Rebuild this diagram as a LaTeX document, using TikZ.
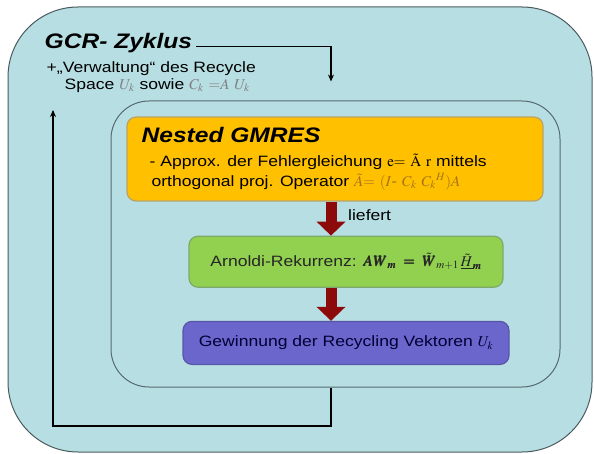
\documentclass[tikz,border=0pt]{standalone}
\usepackage{mathptmx}
\usepackage{bm}
\usepackage[no-math]{fontspec}
\setmainfont{Liberation Sans}[FakeStretch=1.17]
\usetikzlibrary{arrows.meta,positioning}
\definecolor{gcrblue}{HTML}{B7DEE2}
\definecolor{framegray}{HTML}{4A5A5E}
\definecolor{nestgray}{HTML}{566B70}
\definecolor{gmresorange}{HTML}{FFC000}
\definecolor{gmresedge}{HTML}{B9A36A}
\definecolor{arngreen}{HTML}{92D050}
\definecolor{arnedge}{HTML}{7DAA6A}
\definecolor{recblue}{HTML}{6B66CC}
\definecolor{recedge}{HTML}{5956A8}
\definecolor{flowred}{HTML}{8C0A0A}
\definecolor{mathgray}{HTML}{7F7F7F}
\definecolor{mathbrown}{HTML}{A8741A}
\newcommand{\bodysize}{\fontsize{15}{18}\selectfont}
\newcommand{\headsize}{\fontsize{21}{24}\selectfont}
\tikzstyle{gcrframe}=[draw=framegray,fill=gcrblue,line width=1pt,rounded corners=70pt,minimum width=584pt,minimum height=445pt,inner sep=0pt]
\tikzstyle{nestframe}=[draw=nestgray,line width=1pt,rounded corners=38pt,minimum width=449pt,minimum height=286pt,inner sep=0pt]
\tikzstyle{colorbox}=[line width=1.2pt,rounded corners=9pt,inner sep=0pt,font=\bodysize]
\tikzstyle{gmresbox}=[colorbox,draw=gmresedge,fill=gmresorange,minimum width=416pt,minimum height=84pt]
\tikzstyle{arnbox}=[colorbox,draw=arnedge,fill=arngreen,minimum width=314pt,minimum height=51pt,text=black!85]
\tikzstyle{recbox}=[colorbox,draw=recedge,fill=recblue,minimum width=326pt,minimum height=43pt,text=black!80!blue]
\tikzstyle{headtext}=[inner sep=0pt,anchor=base west,font=\headsize\bfseries\itshape]
\tikzstyle{bodytext}=[inner sep=0pt,anchor=base west,font=\bodysize]
\tikzstyle{loopline}=[draw=black,line width=1.6pt,-{Stealth[length=7pt,width=6pt]}]
\tikzstyle{flowarrow}=[draw=flowred,line width=11pt,-{Triangle[width=29pt,length=14pt,line width=0pt]}]

\begin{document}
\begin{tikzpicture}[x=1pt,y=-1pt,node distance=34pt]
  \useasboundingbox (0,0) rectangle (594,454);
  \node[gcrframe]  (gcr) at (300,229.5) {};
  \node[nestframe] (nested) at (335.5,244) {};
  \node[gmresbox]  (gmres) at (335,159) {};
  \node[arnbox]    (arnoldi) [below=of gmres,xshift=11pt] {Arnoldi-Rekurrenz: $\bm{AW_m}\;\bm{=}\;\bm{\tilde{W}_{m+1}}\,\bm{\underline{\tilde{H}}_m}$};
  \node[recbox]    (recycle) [below=33pt of arnoldi] {Gewinnung der Recycling Vektoren $U_k$};
  \coordinate (axis) at (331,0);

  % GCR texts
  \node[headtext] (gcrtitle) at ([shift={(37,42)}]gcr.north west) {GCR- Zyklus};
  \node[bodytext] (gcrnote) at ([shift={(39,66)}]gcr.north west) {+„Verwaltung“ des Recycle};
  \node[bodytext] (gcrspace) at ([shift={(57,83)}]gcr.north west) {Space {\color{mathgray}$U_k$} sowie {\color{mathgray}$C_k\ {=}A\ U_k$}};

  % nested GMRES texts
  \node[headtext] (gmrestitle) at ([shift={(15,26)}]gmres.north west) {Nested GMRES};
  \node[bodytext] (gmresline) at ([shift={(23,50)}]gmres.north west) {- Approx. der Fehlergleichung $\mathrm{e}{=}\ \tilde{\mathrm{A}}\ \mathrm{r}$ mittels};
  \node[bodytext] (gmresop) at ([shift={(25,70)}]gmres.north west) {orthogonal proj. Operator {\color{mathbrown}$\tilde{A}{=}\ (I\mbox{-}\ C_k\ C_k{}^{H})A$}};

  % flow
  \draw[flowarrow] (axis |- gmres.south) -- (axis |- arnoldi.north);
  \draw[flowarrow] (axis |- arnoldi.south) -- (axis |- recycle.north);
  \node[bodytext] (liefert) at ([shift={(17,19)}]axis |- gmres.south) {liefert};

  % cycle
  \coordinate (nestin) at ([shift={(0,-19)}]axis |- nested.north);
  \coordinate (backcorner) at (53,426);
  \coordinate (backtip) at (53,110);
  \draw[loopline] ([shift={(4,-2)}]gcrtitle.base east) -| (nestin);
  \draw[loopline] (axis |- nested.south) |- (backcorner) -- (backtip);
\end{tikzpicture}
\end{document}
